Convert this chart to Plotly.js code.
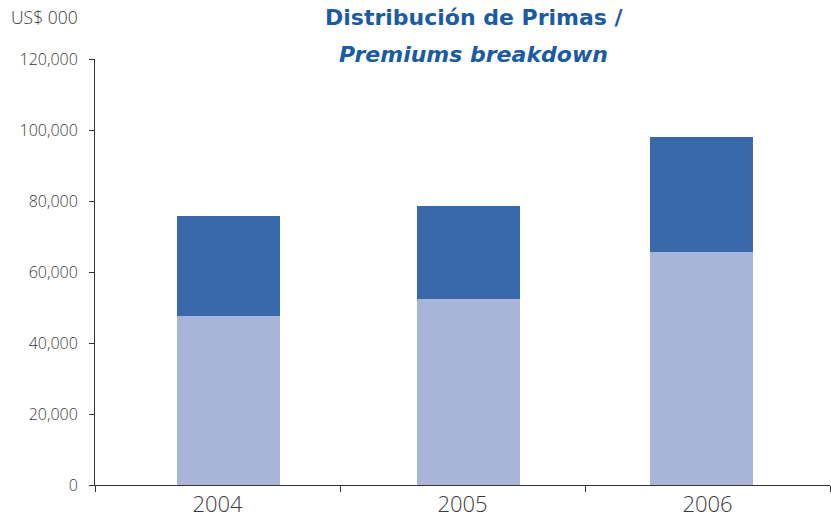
<!DOCTYPE html>
<html><head><meta charset="utf-8">
<script src="https://cdn.plot.ly/plotly-3.0.1.min.js"></script>
<style>html,body{margin:0;padding:0;background:#fff}#chart{width:831px;height:532px}</style>
</head><body><div id="chart"></div>
<script>
const years = ["2004", "2005", "2006"];
const lowerSeries = [47600, 52400, 65600];
const upperSeries = [28200, 26200, 32400];
const yTickVals = [0, 20000, 40000, 60000, 80000, 100000, 120000];
const yTickText = ["0", "20,000", "40,000", "60,000", "80,000", "100,000", "120,000"];

const barOffsets = [-0.165, -0.186, -0.235];
const traces = [
  {type: "bar", x: years, y: lowerSeries, marker: {color: "#A9B5D8"}, width: 0.42, offset: barOffsets, hoverinfo: "none"},
  {type: "bar", x: years, y: upperSeries, marker: {color: "#3869AA"}, width: 0.42, offset: barOffsets, hoverinfo: "none"}
];
const FONT = "Open Sans, Liberation Sans, Arial, sans-serif";
const TFONT = "DejaVu Sans, Liberation Sans, Arial, sans-serif";
const layout = {
  width: 831, height: 532,
  margin: {l: 95, r: 1, t: 59, b: 47},
  barmode: "stack", showlegend: false,
  paper_bgcolor: "#fff", plot_bgcolor: "#fff",
  font: {family: FONT, color: "#3a3a3a"},
  xaxis: {
    type: "category", showgrid: false, zeroline: false,
    showline: true, linecolor: "#333", linewidth: 1,
    ticks: "outside", tickson: "boundaries", ticklen: 6, tickcolor: "#333",
    tickfont: {size: 22, color: "#3a3a3a", weight: 300}, fixedrange: true
  },
  yaxis: {
    range: [0, 120000], tickvals: yTickVals, ticktext: yTickText,
    showgrid: false, zeroline: false,
    showline: true, linecolor: "#333", linewidth: 1,
    ticks: "outside", ticklen: 5, tickcolor: "#333",
    ticklabelstandoff: 8,
    tickfont: {size: 16, color: "#3a3a3a", weight: 300}, fixedrange: true
  },
  annotations: [
    {text: "US$ 000", xref: "paper", yref: "paper", x: 0, y: 1.0, xanchor: "left", yanchor: "bottom",
     yshift: 28, xshift: -86, showarrow: false, font: {size: 17.5, color: "#3a3a3a", weight: 300}},
    {text: "<b>Distribución de Primas /</b>", xref: "paper", yref: "paper", x: 0.517, y: 1.0, xanchor: "center", yanchor: "bottom",
     yshift: 27, showarrow: false, font: {family: TFONT, size: 22, color: "#1B5BA2"}},
    {text: "<b><i>Premiums breakdown</i></b>", xref: "paper", yref: "paper", x: 0.515, y: 1.0, xanchor: "center", yanchor: "bottom",
     yshift: -10, showarrow: false, font: {family: TFONT, size: 22, color: "#1B5BA2"}}
  ]
};
Plotly.newPlot("chart", traces, layout, {displayModeBar: false, staticPlot: true});
</script></body></html>
